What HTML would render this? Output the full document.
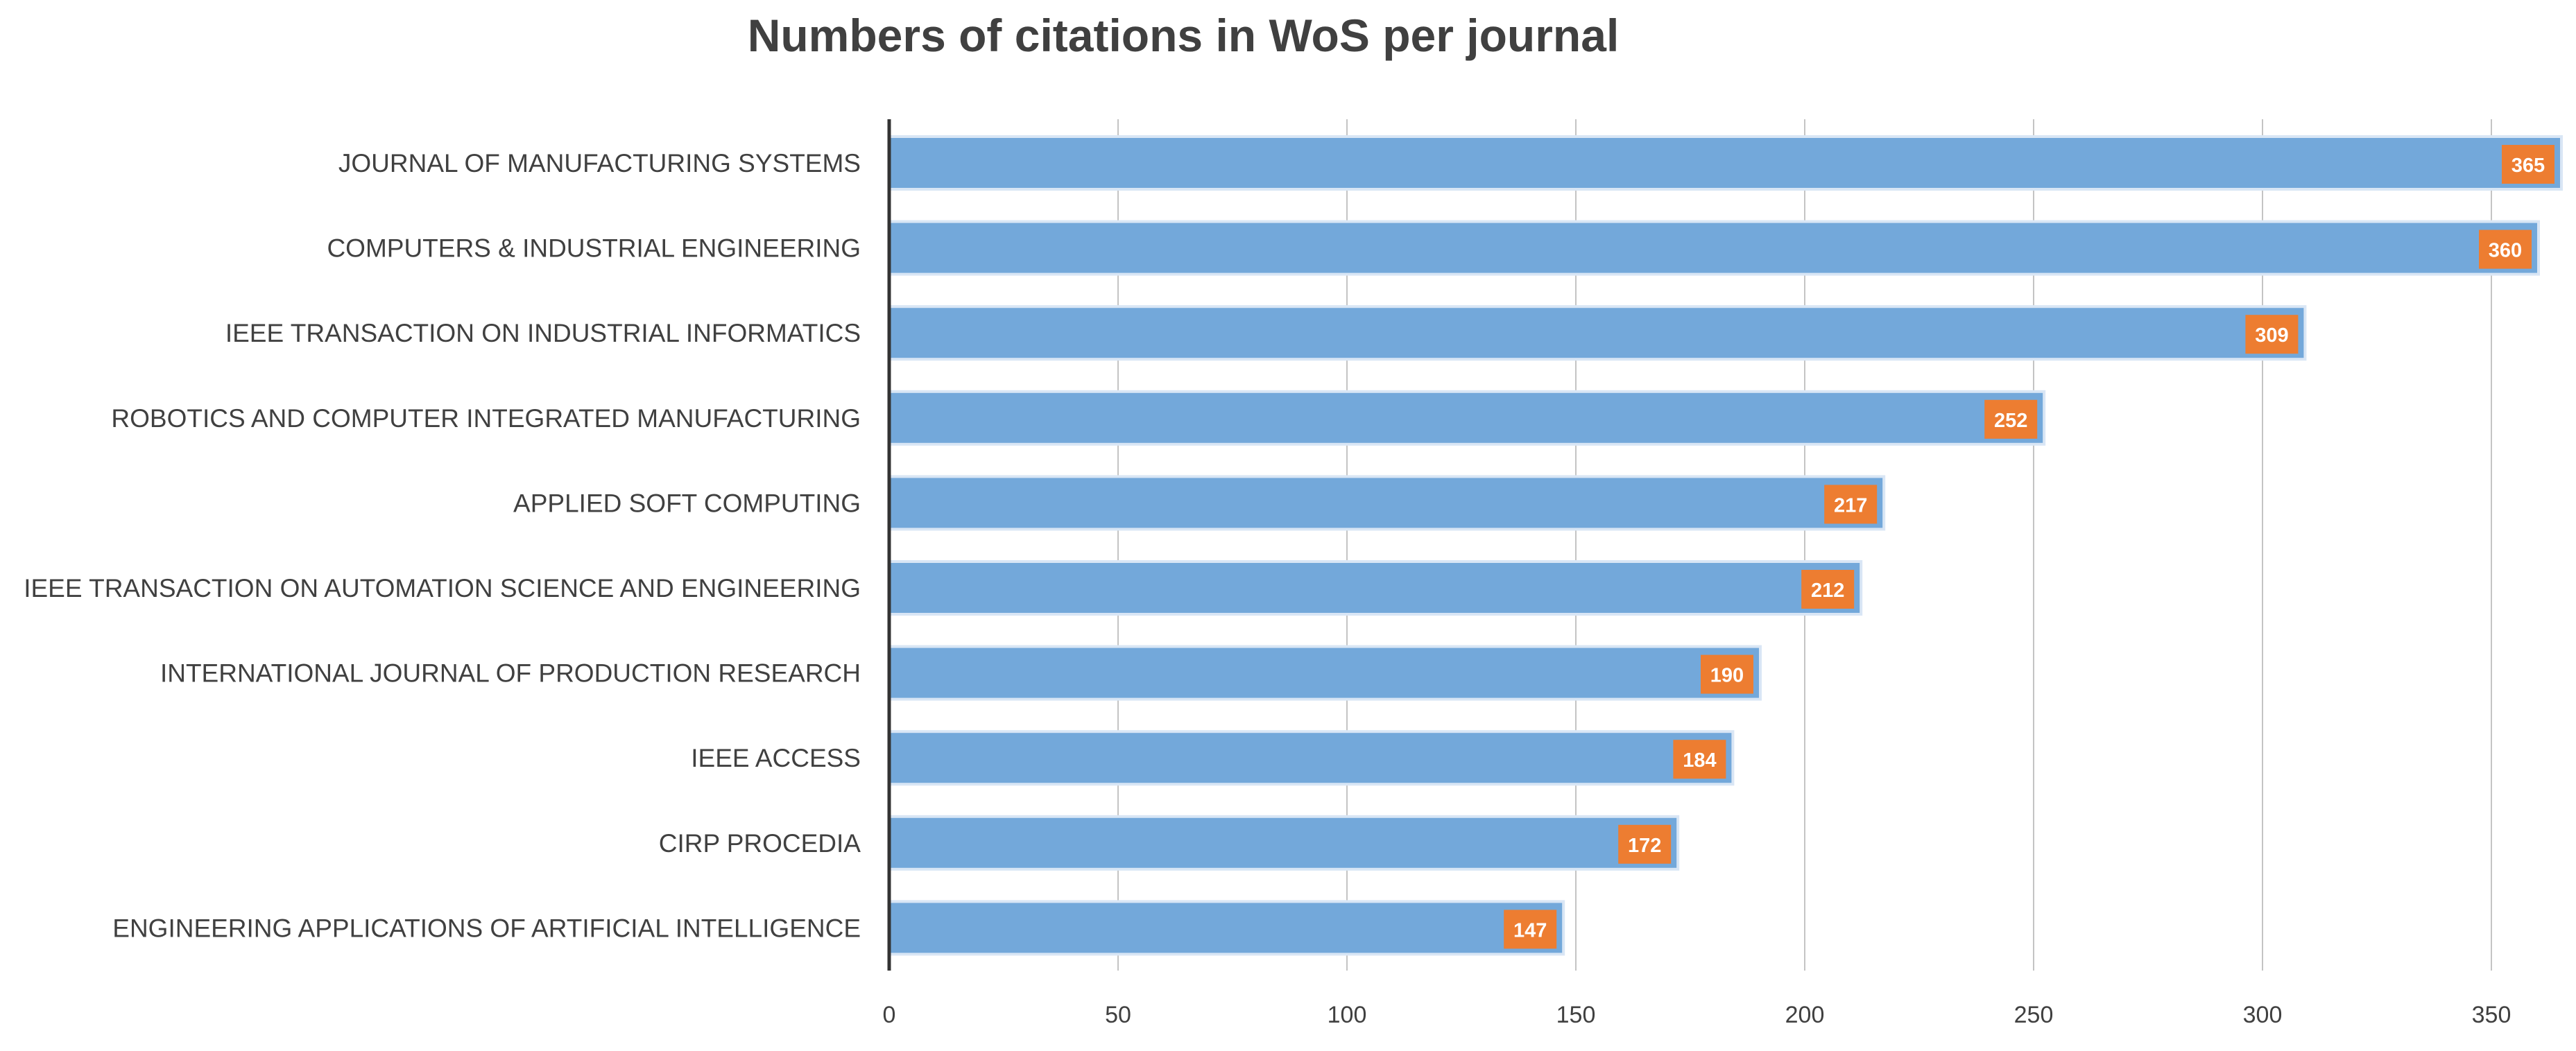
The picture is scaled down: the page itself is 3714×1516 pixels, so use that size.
<!DOCTYPE html>
<html><head><meta charset="utf-8"><style>
html,body{margin:0;padding:0;background:#fff}
svg{display:block;font-family:"Liberation Sans",sans-serif}
</style></head><body>
<svg id="chart" width="3714" height="1516" viewBox="0 0 3714 1516" xmlns="http://www.w3.org/2000/svg">
<text x="1706" y="74" text-anchor="middle" font-size="66" font-weight="bold" fill="#404040">Numbers of citations in WoS per journal</text>
<g id="grid"></g><g id="bars"></g><g id="labels"></g><g id="ticks"></g>
<line x1="1282" y1="172" x2="1282" y2="1400" stroke="#333" stroke-width="5"/>
</svg>
<script>
const categories = ["JOURNAL OF MANUFACTURING SYSTEMS","COMPUTERS & INDUSTRIAL ENGINEERING","IEEE TRANSACTION ON INDUSTRIAL INFORMATICS","ROBOTICS AND COMPUTER INTEGRATED MANUFACTURING","APPLIED SOFT COMPUTING","IEEE TRANSACTION ON AUTOMATION SCIENCE AND ENGINEERING","INTERNATIONAL JOURNAL OF PRODUCTION RESEARCH","IEEE ACCESS","CIRP PROCEDIA","ENGINEERING APPLICATIONS OF ARTIFICIAL INTELLIGENCE"];
const values = [365,360,309,252,217,212,190,184,172,147];
const ticks = [0,50,100,150,200,250,300,350];
const NS="http://www.w3.org/2000/svg";
const x0=1282, xPer=(3592-1282)/350;
const xs=v=>x0+v*xPer;
const yTop=172, band=122.6;
const yc=i=>235+i*band;
function mk(t,a,p){const e=document.createElementNS(NS,t);for(const k in a)e.setAttribute(k,a[k]);p.appendChild(e);return e;}
const G=document.getElementById('grid'),B=document.getElementById('bars'),L=document.getElementById('labels'),T=document.getElementById('ticks');
ticks.forEach(t=>{
  if(t>0){const g=mk('line',{x1:xs(t),x2:xs(t),y1:yTop,y2:1400,stroke:'#c4c4c4','stroke-width':2},G);
  
  }
  const tx=mk('text',{x:xs(t),y:1475,'text-anchor':'middle','font-size':34,fill:'#404040'},T);
  tx.textContent=t;
  
  
});
categories.forEach((c,i)=>{
  const v=values[i],y=yc(i),h=72,w=xs(v)-x0;
  const halo=mk('rect',{x:x0,y:y-h/2-4,width:w+4,height:h+8,fill:'#d9e6f5'},B);
  
  
  const r=mk('rect',{x:x0,y:y-h/2,width:w,height:h,fill:'#73a8da'},B);
  
  
  const bw=76,bh=56,bx=xs(v)-8-bw;
  const box=mk('rect',{x:bx,y:y-bh/2+2,width:bw,height:bh,fill:'#ed7d31'},B);
  
  
  const vt=mk('text',{x:bx+bw/2,y:y+13,'text-anchor':'middle','font-size':29,'font-weight':'bold',fill:'#fff'},B);
  vt.textContent=v;
  
  
  const lt=mk('text',{x:1241,y:y+13,'text-anchor':'end','font-size':37,fill:'#404040'},L);
  lt.textContent=c;
  
  
});
</script>
</body></html>
